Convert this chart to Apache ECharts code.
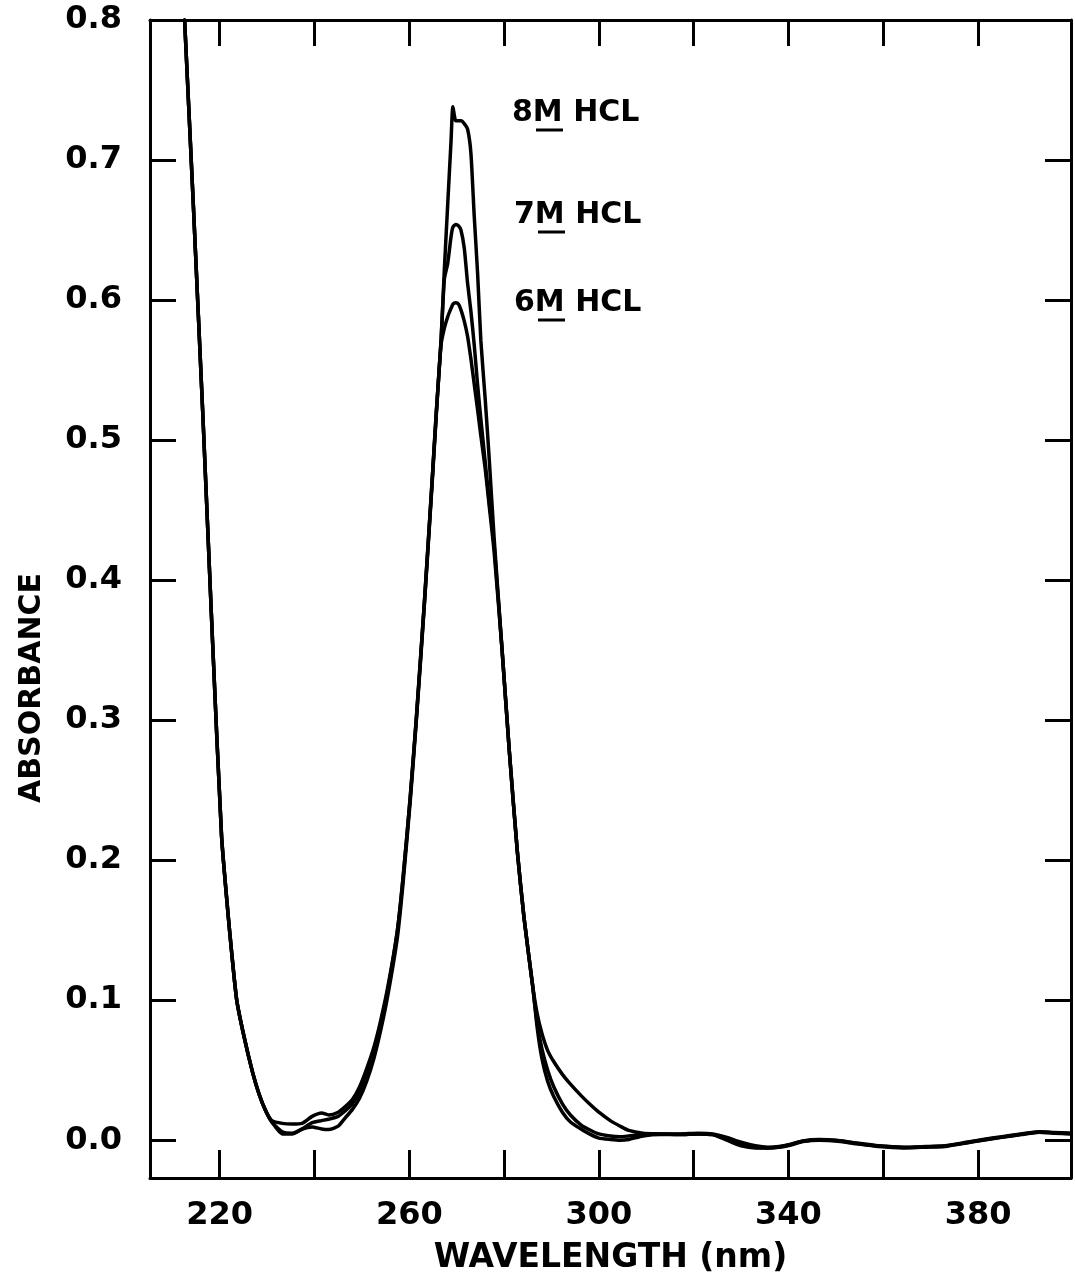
<!DOCTYPE html>
<html>
<head>
<meta charset="utf-8">
<script src="https://cdn.jsdelivr.net/npm/echarts@6.0.0/dist/echarts.min.js"></script>
<style>
  html, body { margin: 0; padding: 0; background: #fff; }
  #main { width: 1075px; height: 1284px; }
</style>
</head>
<body>
<div id="main"></div>
<script>
// UV absorbance of the sample in 6, 7 and 8 M HCl
var wavelength = [
  212.6, 214.4, 216.5, 218.5, 220.4, 221.7, 222.5, 223.6, 225.2, 226.9, 228.3, 229.7, 231.0,
  233.2, 235.3, 237.4, 239.5, 241.5, 243.0, 245.0, 246.5, 248.0, 249.5, 251.0, 252.5, 254.0, 255.5, 257.5,
  258.7, 260.2, 261.5, 263.2, 264.8, 265.7, 266.7, 267.4, 268.1, 268.8, 269.2, 269.8, 270.4, 270.9, 271.6,
  272.3, 273.0, 273.7, 274.4, 275.1, 276.0, 276.8,
  277.9, 279.6, 281.1, 282.8, 284.2, 286.0, 287.0, 288.0, 289.2, 290.5, 292.3, 294.0, 296.2, 298.0, 300.0,
  302.4, 304.5, 306.3, 309.3,
  313, 317, 321, 324, 327, 330, 333, 335.7, 338, 340.3, 343, 346.5, 350, 354.2, 359, 364.3, 369, 373,
  377.5, 381, 385, 389.1, 392.9, 396, 399.6
];

var hcl8M = [
  0.800, 0.671, 0.514, 0.356, 0.217, 0.164, 0.135, 0.100, 0.073, 0.049, 0.033, 0.021, 0.014,
  0.012, 0.0115, 0.012, 0.017, 0.0195, 0.018, 0.020, 0.024, 0.029, 0.038, 0.051, 0.066, 0.086, 0.110, 0.150,
  0.188, 0.245, 0.302, 0.385, 0.470, 0.520, 0.571, 0.622, 0.668, 0.713, 0.738, 0.728, 0.728, 0.728, 0.726,
  0.722, 0.705, 0.660, 0.620, 0.571, 0.530, 0.490,
  0.430, 0.349, 0.278, 0.206, 0.159, 0.111, 0.080, 0.058, 0.042, 0.031, 0.020, 0.013, 0.008, 0.0045, 0.0015,
  0.0005, 0.000, 0.0005, 0.003,
  0.004, 0.004, 0.0045, 0.004, 0.000, -0.004, -0.0055, -0.0055, -0.005, -0.0036, -0.001, 0.000, -0.0005,
  -0.0025, -0.0045, -0.0055, -0.005, -0.0045, -0.002, 0.000, 0.002, 0.004, 0.0057, 0.005, 0.0045
];

var hcl7M = [
  0.800, 0.671, 0.514, 0.356, 0.217, 0.164, 0.135, 0.100, 0.073, 0.049, 0.033, 0.021, 0.013,
  0.006, 0.005, 0.008, 0.0125, 0.014, 0.015, 0.017, 0.021, 0.026, 0.035, 0.048, 0.064, 0.084, 0.108, 0.150,
  0.188, 0.245, 0.302, 0.385, 0.470, 0.520, 0.571, 0.615, 0.626, 0.645, 0.652, 0.654, 0.653, 0.650, 0.637,
  0.612, 0.592, 0.568, 0.540, 0.515, 0.485, 0.458,
  0.425, 0.349, 0.278, 0.206, 0.159, 0.111, 0.083, 0.065, 0.050, 0.038, 0.026, 0.018, 0.011, 0.0075, 0.0045,
  0.003, 0.0025, 0.003, 0.004,
  0.0045, 0.0045, 0.005, 0.0045, 0.002, -0.0015, -0.004, -0.005, -0.0045, -0.003, -0.0005, 0.0005, 0.000,
  -0.002, -0.004, -0.005, -0.0045, -0.004, -0.0015, 0.0005, 0.0025, 0.0045, 0.006, 0.0055, 0.005
];

var hcl6M = [
  0.800, 0.671, 0.514, 0.356, 0.217, 0.164, 0.135, 0.100, 0.073, 0.049, 0.033, 0.021, 0.013,
  0.0045, 0.0045, 0.008, 0.0095, 0.008, 0.0076, 0.010, 0.016, 0.022, 0.030, 0.042, 0.058, 0.079, 0.104, 0.145,
  0.184, 0.242, 0.300, 0.383, 0.468, 0.518, 0.568, 0.580, 0.588, 0.594, 0.597, 0.598, 0.597, 0.593, 0.585,
  0.574, 0.558, 0.540, 0.522, 0.503, 0.480, 0.455,
  0.420, 0.349, 0.278, 0.206, 0.159, 0.111, 0.090, 0.076, 0.064, 0.056, 0.047, 0.040, 0.032, 0.026, 0.020,
  0.014, 0.010, 0.007, 0.005,
  0.0045, 0.004, 0.0045, 0.004, 0.001, -0.003, -0.005, -0.0055, -0.0048, -0.0033, -0.0008, 0.0003, -0.0003,
  -0.0022, -0.0042, -0.0052, -0.0048, -0.0042, -0.0018, 0.0002, 0.0022, 0.0042, 0.0058, 0.0052, 0.0047
];

var xTicks = [220, 240, 260, 280, 300, 320, 340, 360, 380];
var xLabels = [220, 260, 300, 340, 380];
var yTicks = [0, 0.1, 0.2, 0.3, 0.4, 0.5, 0.6, 0.7, 0.8];

var FONT = 'DejaVu Sans';

var chartDom = document.getElementById('main');
var myChart = echarts.init(chartDom);
var option;

function pairs(vals) {
  return wavelength.map(function (w, i) {
    return [w, vals[i]];
  });
}

function curve(name, vals) {
  return {
    name: name,
    type: 'line',
    data: pairs(vals),
    showSymbol: false,
    smooth: 0.2,
    silent: true,
    lineStyle: { color: '#000', width: 3.5, join: 'round', cap: 'round' }
  };
}

var axisLineStyle = { show: true, onZero: false, lineStyle: { color: '#000', width: 3 } };

function label(txt, x, y) {
  return {
    type: 'group',
    children: [
      {
        type: 'text',
        x: x,
        y: y,
        style: {
          text: txt,
          font: 'bold 30px "DejaVu Sans"',
          fill: '#000',
          textVerticalAlign: 'middle'
        }
      },
      {
        type: 'line',
        shape: { x1: x + 24, y1: y + 17, x2: x + 51, y2: y + 17 },
        style: { stroke: '#000', lineWidth: 3 }
      }
    ]
  };
}

option = {
  backgroundColor: '#fff',
  animation: false,
  grid: {
    left: 150,
    right: 4,
    top: 20,
    bottom: 106
  },
  xAxis: [
    {
      type: 'value',
      position: 'bottom',
      min: 205.3,
      max: 399.6,
      axisLine: axisLineStyle,
      axisTick: {
        inside: true,
        length: 28,
        customValues: xTicks,
        lineStyle: { color: '#000', width: 3 }
      },
      axisLabel: {
        customValues: xLabels,
        margin: 22,
        color: '#000',
        fontSize: 32,
        fontWeight: 'bold',
        fontFamily: FONT
      },
      splitLine: { show: false },
      name: 'WAVELENGTH (nm)',
      nameLocation: 'middle',
      nameGap: 64,
      nameTextStyle: {
        color: '#000',
        fontSize: 33,
        fontWeight: 'bold',
        fontFamily: FONT,
        verticalAlign: 'top'
      }
    },
    {
      type: 'value',
      position: 'top',
      min: 205.3,
      max: 399.6,
      axisLine: axisLineStyle,
      axisTick: {
        inside: true,
        length: 26,
        customValues: xTicks,
        lineStyle: { color: '#000', width: 3 }
      },
      axisLabel: { show: false },
      splitLine: { show: false }
    }
  ],
  yAxis: [
    {
      type: 'value',
      position: 'left',
      min: -0.027,
      max: 0.8,
      axisLine: axisLineStyle,
      axisTick: {
        inside: true,
        length: 26,
        customValues: yTicks,
        lineStyle: { color: '#000', width: 3 }
      },
      axisLabel: {
        customValues: yTicks,
        formatter: function (v) { return v.toFixed(1); },
        margin: 28,
        color: '#000',
        fontSize: 32,
        fontWeight: 'bold',
        fontFamily: FONT
      },
      splitLine: { show: false }
    },
    {
      type: 'value',
      position: 'right',
      min: -0.027,
      max: 0.8,
      axisLine: axisLineStyle,
      axisTick: {
        inside: true,
        length: 26,
        customValues: yTicks,
        lineStyle: { color: '#000', width: 3 }
      },
      axisLabel: { show: false },
      splitLine: { show: false }
    }
  ],
  graphic: [
    {
      type: 'text',
      x: 32,
      y: 688,
      rotation: Math.PI / 2,
      style: {
        text: 'ABSORBANCE',
        font: 'bold 30px "DejaVu Sans"',
        fill: '#000',
        textAlign: 'center',
        textVerticalAlign: 'middle'
      }
    },
    label('8M HCL', 512, 113),
    label('7M HCL', 514, 215),
    label('6M HCL', 514, 303)
  ],
  series: [
    curve('8M HCL', hcl8M),
    curve('7M HCL', hcl7M),
    curve('6M HCL', hcl6M)
  ]
};

option && myChart.setOption(option);
</script>
</body>
</html>
